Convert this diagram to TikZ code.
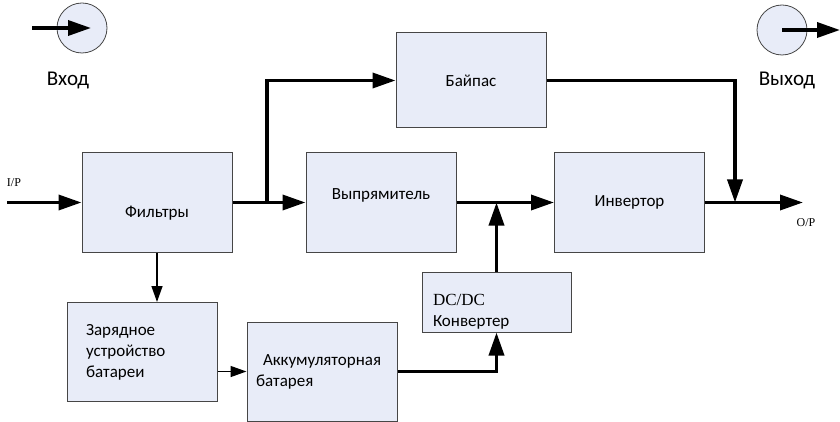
\documentclass[tikz,border=0pt]{standalone}
\usepackage{fontspec}
\setmainfont{Carlito}
\newfontfamily\tnr{Liberation Serif}
\usetikzlibrary{arrows.meta, positioning}
\definecolor{boxfill}{RGB}{232,236,248}
\definecolor{boxline}{RGB}{70,70,70}

\begin{document}
\begin{tikzpicture}[
    x=1pt, y=-1pt,
    blk/.style={draw=boxline, fill=boxfill, line width=1pt, minimum width=150pt, minimum height=99pt, inner sep=0pt, font=\fontsize{17}{21}\selectfont},
    port/.style={circle, draw=boxline, fill=boxfill, line width=0.8pt, minimum size=50pt, inner sep=0pt},
    bus/.style={line width=3.5pt, -{Triangle[length=23pt, width=15pt]}},
    wire/.style={line width=1.4pt, -{Triangle[length=16pt, width=11pt]}},
    tag/.style={font=\tnr\fontsize{12}{14}\selectfont},
    title/.style={font=\fontsize{21}{24}\selectfont}
]
   \useasboundingbox (0,0) rectangle (840,422);

   % Input and output markers
   \node[port] (in) at (82,28) {};
   \node[port] (out) at (782,30) {};
   \node[title] (inlbl) at (68,80) {Вход};
   \node[title] (outlbl) at (787,80) {Выход};
   \coordinate (inA) at (32,28);
   \coordinate (outB) at (840,30);
   \draw[bus] (inA) -- ([xshift=9pt]in.center);
   \draw[bus] (out.center) -- (outB);

   % Blocks
   \node[blk] (filt) at (157,202.5) {\raisebox{-10.5pt}[\height][\depth]{Фильтры}};
   \node[blk] (rect) at (381,202.5) {\raisebox{7.5pt}[\height][\depth]{Выпрямитель}};
   \node[blk, minimum height=95pt] (byp) at (471,80.5) {Байпас};
   \node[blk] (inv) at (629.5,202.5) {Инвертор};
   \node[blk] (chrg) at (142,352) {\parbox{112pt}{Зарядное\\устройство\\батареи}};
   \node[blk] (batt) at (322,371.5) {\parbox{132pt}{\hspace*{7pt}Аккумуляторная\\батарея}};
   \node[blk, minimum width=149pt, minimum height=60pt] (dcdc) at (496.5,302)
      {\raisebox{-10pt}[\height][\depth]{\parbox{127pt}{{\tnr DC/DC}\\Конвертер}}};

   % Power path
   \coordinate (ip) at (7,202.5);
   \coordinate (split) at (267,202.5);
   \coordinate (merge) at (735,202.5);
   \coordinate (op) at (803,202.5);
   \node[tag] (iplbl) at (14,183) {I/P};
   \node[tag] (oplbl) at (806,223) {O/P};
   \draw[bus] (ip) -- (filt);
   \draw[bus] (filt) -- (rect);
   \draw[bus] (split) |- (byp);
   \draw[bus] (rect) -- (inv);
   \draw[bus] (byp.east) -| (merge);
   \draw[bus] (inv) -- (op);

   % Battery path
   \draw[wire] (filt.south) -- (filt.south |- chrg.north);
   \draw[wire] (batt.west -| chrg.east) -- (batt.west);
   \draw[bus] (batt.east) -| (dcdc.south);
   \draw[bus] (dcdc.north) -- (dcdc.north |- rect.east);
\end{tikzpicture}
\end{document}
